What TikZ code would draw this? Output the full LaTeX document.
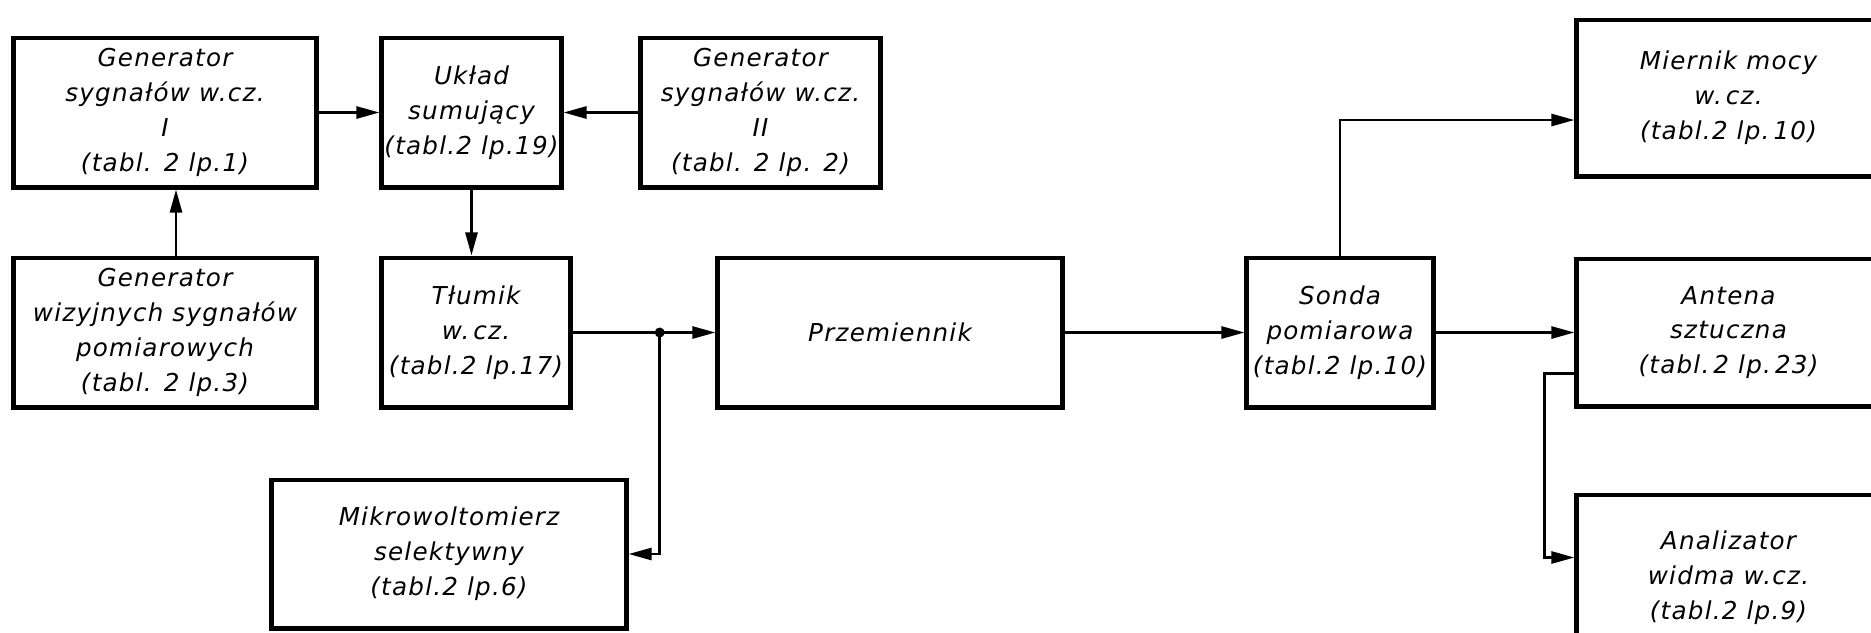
\documentclass[tikz,border=0pt]{standalone}
\usepackage{fontspec}
\setmainfont{DejaVu Sans}[LetterSpace=5]
\usetikzlibrary{positioning, arrows.meta}

\begin{document}
\begin{tikzpicture}[
  x=0.01cm, y=-0.01cm,
  box/.style = {rectangle, draw, line width=1.4pt, inner sep=0pt, font=\fontsize{7}{9.9}\selectfont\itshape, align=center},
  cutbox/.style = {box, minimum width=3.03cm},
  arrow/.style = {-{Triangle[length=0.23cm, width=0.12cm]}, line width=0.75pt}
  ]

\useasboundingbox (0,0) rectangle (1871,632);
\clip (0,0) rectangle (1871,632);

% upper row
\node[box, minimum width=3.02cm, minimum height=1.49cm] (genI) at (165,112.5) {Generator\\sygnałów w.cz.\\I\\(tabl. 2 lp.1)};
\node[box, minimum width=1.79cm, minimum height=1.49cm] (uklad) at (471.5,112.5) {Układ\\sumujący\\(tabl.2 lp.19)};
\node[box, minimum width=2.39cm, minimum height=1.49cm] (genII) at (760.5,112.5) {Generator\\sygnałów w.cz.\\II\\(tabl. 2 lp. 2)};
\node[cutbox, minimum height=1.56cm] (miernik) at (1728.5,98) {Miernik mocy\\w.\,cz.\\(tabl.2 lp.\,10)};

% middle row
\node[box, minimum width=3.02cm, minimum height=1.49cm] (genwiz) at (165,332.5) {Generator\\wizyjnych sygnałów\\pomiarowych\\(tabl. 2 lp.3)};
\node[box, minimum width=1.88cm, minimum height=1.49cm] (tlumik) at (476,332.5) {Tłumik\\w.\,cz.\\(tabl.2 lp.17)};
\node[box, minimum width=3.44cm, minimum height=1.49cm] (przem) at (890,332.5) {Przemiennik};
\node[box, minimum width=1.86cm, minimum height=1.49cm] (sonda) at (1340,332.5) {Sonda\\pomiarowa\\(tabl.2 lp.10)};
\node[cutbox, minimum height=1.47cm] (antena) at (1728.5,332.5) {Antena\\sztuczna\\(tabl.\,2 lp.\,23)};

% lower row
\node[box, minimum width=3.54cm, minimum height=1.48cm] (mikro) at (449,554) {Mikrowoltomierz\\selektywny\\(tabl.2 lp.6)};
\node[cutbox, minimum height=1.65cm] (analiz) at (1728.5,577.5) {Analizator\\widma w.cz.\\(tabl.2 lp.9)};

% connections
\draw[arrow] (genI.east) -- (uklad.west);
\draw[arrow] (genII.west) -- (uklad.east);
\draw[arrow] ([xshift=0.11cm]genwiz.north) -- ([xshift=0.11cm]genI.south);
\draw[arrow] (uklad.south) -- (uklad.south |- tlumik.north);
\path (tlumik.east) -- coordinate[pos=0.61] (jn) (przem.west);
\draw[arrow] (tlumik.east) -- (przem.west);
\fill (jn) circle (0.05cm);
\draw[arrow] (jn) |- (mikro.east);
\draw[arrow] (przem.east) -- (sonda.west);
\draw[arrow] (sonda.north) |- ([yshift=-0.22cm]miernik.west);
\draw[arrow] (sonda.east) -- (antena.west);
\draw[arrow] ([yshift=-0.41cm]antena.west) -- ++(-30,0) |- ([yshift=0.2cm]analiz.west);

\end{tikzpicture}
\end{document}
